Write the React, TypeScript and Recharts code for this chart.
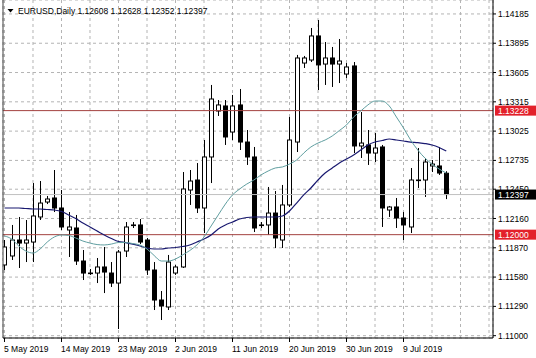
import { Bar, CartesianGrid, ComposedChart, Line, ReferenceLine, XAxis, YAxis } from 'recharts';

// EURUSD daily bars, 5 May - 16 Jul 2019
const opens = [
  1.117, 1.11789, 1.11947, 1.11917, 1.11927, 1.12175, 1.12323, 1.12363, 1.12264, 1.12046,
  1.12066, 1.11739, 1.1162, 1.1162, 1.1168, 1.1162, 1.11521, 1.11838, 1.12096, 1.12096,
  1.11947, 1.1165, 1.11353, 1.11284, 1.1162, 1.1168, 1.12442, 1.12541, 1.12264, 1.12769,
  1.13224, 1.13274, 1.13016, 1.13284, 1.12917, 1.12769, 1.12096, 1.12096, 1.12214, 1.11947,
  1.12294, 1.12917, 1.13699, 1.13729, 1.13967, 1.13689, 1.13749, 1.13689, 1.1359, 1.1367,
  1.12878, 1.12888, 1.12808, 1.12868, 1.12244, 1.12274, 1.12165, 1.12076, 1.12541, 1.12541,
  1.1268, 1.1268, 1.12608
];
const highs = [
  1.11947, 1.12096, 1.12175, 1.12145, 1.12511, 1.12531, 1.12383, 1.1264, 1.12442, 1.12224,
  1.12195, 1.11848, 1.1166, 1.11769, 1.11878, 1.11729, 1.11848, 1.12125, 1.12125, 1.12155,
  1.11967, 1.11729, 1.11442, 1.11799, 1.117, 1.1262, 1.1264, 1.12709, 1.12937, 1.13482,
  1.13333, 1.13333, 1.13383, 1.13442, 1.13036, 1.12868, 1.12125, 1.12472, 1.12432, 1.12492,
  1.13165, 1.13779, 1.13769, 1.14046, 1.14125, 1.13907, 1.13858, 1.13937, 1.13699, 1.13709,
  1.13214, 1.13036, 1.13006, 1.12888, 1.12284, 1.12363, 1.12224, 1.1266, 1.12858, 1.12759,
  1.12739, 1.12868, 1.12628
];
const lows = [
  1.1165, 1.11749, 1.1167, 1.11729, 1.11729, 1.12145, 1.12303, 1.12224, 1.12046, 1.11779,
  1.117, 1.11551, 1.11601, 1.11521, 1.11422, 1.11482, 1.11066, 1.11779, 1.12066, 1.11907,
  1.11601, 1.11254, 1.11155, 1.11254, 1.11601, 1.1167, 1.12294, 1.12214, 1.12016, 1.12511,
  1.13175, 1.12888, 1.12937, 1.12838, 1.1269, 1.12026, 1.12066, 1.11997, 1.11868, 1.11868,
  1.12274, 1.12818, 1.1365, 1.13709, 1.13432, 1.13482, 1.13462, 1.13501, 1.13551, 1.12808,
  1.12759, 1.1269, 1.12719, 1.12076, 1.12175, 1.12066, 1.11947, 1.12016, 1.12462, 1.12373,
  1.1262, 1.12591, 1.12352
];
const closes = [
  1.11878, 1.11947, 1.11917, 1.11947, 1.12185, 1.12313, 1.12353, 1.12264, 1.12076, 1.12076,
  1.11739, 1.1162, 1.11615, 1.1168, 1.1163, 1.11521, 1.11828, 1.12076, 1.12091, 1.11927,
  1.1165, 1.11353, 1.11294, 1.11729, 1.1168, 1.12452, 1.12531, 1.12264, 1.12769, 1.13343,
  1.13284, 1.12967, 1.13274, 1.12917, 1.12769, 1.12066, 1.12091, 1.12214, 1.11967, 1.12294,
  1.12937, 1.13749, 1.13749, 1.13967, 1.1368, 1.13749, 1.13689, 1.13719, 1.1366, 1.12878,
  1.12907, 1.12808, 1.12858, 1.12264, 1.12274, 1.12165, 1.12096, 1.12541, 1.12536, 1.12719,
  1.12699, 1.1261, 1.12397
];
// moving averages
const maFast = [
  1.11987, 1.11957, 1.11888, 1.11838, 1.11818, 1.11858, 1.11927, 1.11977, 1.11997, 1.11992,
  1.11967, 1.11937, 1.11917, 1.11902, 1.11898, 1.11907, 1.11922, 1.11922, 1.11912, 1.11898,
  1.11858, 1.11794, 1.11739, 1.11739, 1.11759, 1.11799, 1.11843, 1.11898, 1.11977, 1.12086,
  1.12195, 1.12303, 1.12393, 1.12452, 1.12501, 1.12541, 1.12591, 1.1263, 1.1266, 1.1267,
  1.12699, 1.12739, 1.12808, 1.12868, 1.12907, 1.12937, 1.12977, 1.13031, 1.13086, 1.13165,
  1.13224, 1.13284, 1.13323, 1.13323, 1.13274, 1.13165, 1.13056, 1.12937, 1.12838, 1.12759,
  1.12699, 1.1265, 1.1261
];
const maSlow = [
  1.12264, 1.12264, 1.12264, 1.12259, 1.12254, 1.12254, 1.12249, 1.12244, 1.12229, 1.12195,
  1.1216, 1.12115, 1.12076, 1.12036, 1.11997, 1.11962, 1.11932, 1.11922, 1.11907, 1.11888,
  1.11868, 1.11858, 1.11858, 1.11868, 1.11873, 1.11883, 1.11898, 1.11927, 1.11957, 1.11997,
  1.12056, 1.12096, 1.12125, 1.12155, 1.1217, 1.12175, 1.12175, 1.12175, 1.12175, 1.12185,
  1.12234, 1.12313, 1.12393, 1.12462, 1.12541, 1.1261, 1.1266, 1.12709, 1.12749, 1.12789,
  1.12838, 1.12888, 1.12917, 1.12932, 1.12947, 1.12937, 1.12927, 1.12917, 1.12912, 1.12902,
  1.12888, 1.12863, 1.12828
];

const dateLabels = ['5 May 2019', '14 May 2019', '23 May 2019', '2 Jun 2019', '11 Jun 2019', '20 Jun 2019', '30 Jun 2019', '9 Jul 2019'];
const xTicks = [0, 4, 8, 12, 16, 20, 24, 28, 32, 36, 40, 44, 48, 52, 56, 60, 64, 68];
const yTicks = [1.11, 1.1129, 1.1158, 1.1187, 1.1216, 1.1245, 1.12735, 1.13025, 1.13315, 1.13605, 1.13895, 1.14185];

const resistance = 1.13228;
const support = 1.12;
const lastPrice = 1.12397;

const X_MIN = -0.21;
const X_MAX = 68.56;
const Y_MIN = 1.10977;
const Y_MAX = 1.14323;

const FONT = '"Liberation Sans", Arial, sans-serif';

const data = opens.map((open, i) => ({
  i,
  open,
  high: highs[i],
  low: lows[i],
  close: closes[i],
  range: [lows[i], highs[i]],
  fast: maFast[i],
  slow: maSlow[i]
}));

function Candle(props: any) {
  const { x, y, width, height, payload } = props;
  if (!payload || height == null) return <g />;
  const { open, close, high, low } = payload;
  const cx = Math.round(x + width / 2) + 0.5;
  const k = height / (high - low);
  const yOpen = y + (high - open) * k;
  const yClose = y + (high - close) * k;
  const top = Math.min(yOpen, yClose);
  const bodyH = Math.max(Math.abs(yOpen - yClose), 0.6);
  return (
    <g>
      <line stroke="#000" strokeWidth={1} x1={cx} x2={cx} y1={y} y2={y + height} />
      <rect fill={close >= open ? '#fff' : '#000'} height={bodyH} stroke="#000" strokeWidth={1} width={4} x={cx - 2} y={top} />
    </g>
  );
}

function DateTick({ x, y, payload }: any) {
  const v = Math.round(payload.value);
  if (v % 8 !== 0 || !dateLabels[v / 8]) return <g />;
  return (
    <g>
      <line stroke="#000" x1={x} x2={x} y1={y} y2={y + 4} />
      <text fill="#000" fontFamily={FONT} fontSize={8.5} textAnchor="start" x={x - 0.5} y={y + 14}>{dateLabels[v / 8]}</text>
    </g>
  );
}

function PriceTag({ viewBox, value, bg }: any) {
  if (!viewBox) return <g />;
  const right = viewBox.x + viewBox.width;
  const cy = viewBox.y;
  return (
    <g>
      <rect fill={bg} height={10} width={41} x={right + 2} y={cy - 5} />
      <text fill="#fff" fontFamily={FONT} fontSize={8.5} x={right + 5} y={cy + 3}>{value.toFixed(5)}</text>
    </g>
  );
}

export default function App() {
  return (
    <div style={{ position: 'absolute', left: 0, top: 0, width: 536, height: 358, background: '#fff', fontFamily: FONT }}>
      <ComposedChart data={data} height={358} margin={{ top: 0, right: 0, left: 3, bottom: 0 }} width={536}>
        <CartesianGrid stroke="#b4b4b4" strokeDasharray="3 3" />
        <XAxis
          allowDataOverflow
          axisLine={{ stroke: '#000' }}
          dataKey="i"
          domain={[X_MIN, X_MAX]}
          height={20}
          interval={0}
          tick={<DateTick />}
          tickLine={false}
          tickMargin={0}
          tickSize={0}
          ticks={xTicks}
          type="number"
        />
        <YAxis
          allowDataOverflow
          axisLine={{ stroke: '#000' }}
          domain={[Y_MIN, Y_MAX]}
          interval={0}
          orientation="right"
          tick={{ fill: '#000', fontSize: 8.5, fontFamily: FONT }}
          tickFormatter={(v: number) => v.toFixed(5)}
          tickLine={{ stroke: '#000' }}
          tickMargin={2}
          tickSize={3}
          ticks={yTicks}
          type="number"
          width={43}
        />
        <ReferenceLine stroke="#c0c0c0" y={lastPrice} label={(p: any) => <PriceTag {...p} bg="#000" value={lastPrice} />} />
        <ReferenceLine stroke="#a3423f" y={resistance} label={(p: any) => <PriceTag {...p} bg="#e3202a" value={resistance} />} />
        <ReferenceLine stroke="#a3423f" y={support} label={(p: any) => <PriceTag {...p} bg="#e3202a" value={support} />} />
        <ReferenceLine stroke="#404040" x={X_MIN} />
        <Bar barSize={5} dataKey="range" isAnimationActive={false} shape={<Candle />} />
        <Line dataKey="slow" dot={false} isAnimationActive={false} stroke="#191970" strokeWidth={1.2} type="monotone" />
        <Line dataKey="fast" dot={false} isAnimationActive={false} stroke="#5f9ea0" strokeWidth={1} type="monotone" />
      </ComposedChart>
      <svg height={20} style={{ position: 'absolute', left: 0, top: 0 }} width={300}>
        <polygon fill="#000" points="7.5,9 13.5,9 10.5,12.5" />
        <text fill="#000" fontFamily={FONT} fontSize={8.5} x={18} y={13.5}>EURUSD,Daily  1.12608 1.12628 1.12352 1.12397</text>
      </svg>
    </div>
  );
}
